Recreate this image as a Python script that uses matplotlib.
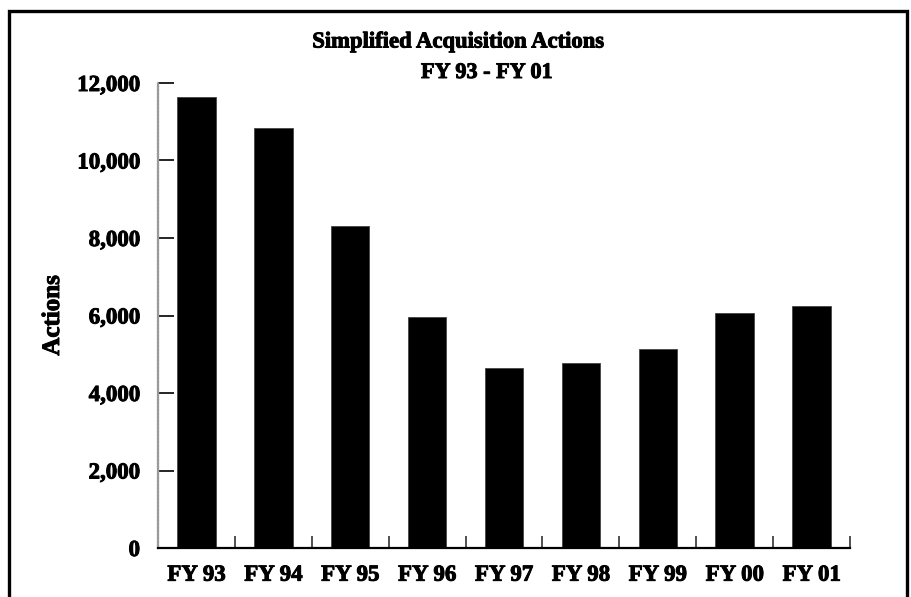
import matplotlib
matplotlib.use("Agg")
import matplotlib.pyplot as plt
from matplotlib.patches import Rectangle
import matplotlib.patheffects as pe

categories = ["FY 93", "FY 94", "FY 95", "FY 96", "FY 97", "FY 98", "FY 99", "FY 00", "FY 01"]
actions = [11650, 10850, 8300, 5960, 4640, 4780, 5130, 6060, 6240]
yticks = [0, 2000, 4000, 6000, 8000, 10000, 12000]
ytick_labels = ["0", "2,000", "4,000", "6,000", "8,000", "10,000", "12,000"]

plt.rcParams['font.family'] = ['Liberation Serif', 'DejaVu Serif']
plt.rcParams['font.weight'] = 'bold'

heavy = [pe.withStroke(linewidth=0.7, foreground='black')]

fig = plt.figure(figsize=(9.12, 5.97), dpi=100)
ax = fig.add_axes([158/912, (597-548)/597, (850-158)/912, (548-83)/597])

x = list(range(len(categories)))
ax.bar(x, actions, width=0.5, color='black', edgecolor='#444444', linewidth=0.6)

ax.set_xlim(-0.5, len(categories) - 0.5)
ax.set_ylim(0, 12000)
ax.set_yticks(yticks)
ax.set_yticklabels(ytick_labels, fontsize=16.5, fontweight='bold')
ax.set_xticks(x)
ax.set_xticklabels(categories, fontsize=16.5, fontweight='bold')
ax.set_xticks([i + 0.5 for i in x], minor=True)
for lab in ax.get_xticklabels() + ax.get_yticklabels():
    lab.set_path_effects(heavy)

ax.tick_params(axis='y', direction='in', length=11.5, width=1.2, pad=13, color='black')
ax.tick_params(axis='x', which='major', length=0, pad=12)
ax.tick_params(axis='x', which='minor', direction='in', length=8.5, width=1.1, color='#222222')

ax.spines['top'].set_visible(False)
ax.spines['right'].set_visible(False)
ax.spines['left'].set_color('#9a9a9a')
ax.spines['left'].set_linewidth(1.6)
ax.spines['left'].set_linestyle((0, (1, 0.6)))
ax.spines['bottom'].set_color('black')
ax.spines['bottom'].set_linewidth(1.6)

yl = ax.set_ylabel("Actions", fontsize=18, fontweight='bold')
yl.set_path_effects(heavy)
ax.yaxis.set_label_coords(-94/692, 0.5)

t1 = fig.text(458/912, 1 - 42/597, "Simplified Acquisition Actions", ha='center', va='center',
              fontsize=16.3, fontweight='bold')
t2 = fig.text(487/912, 1 - 73/597, "FY 93 - FY 01", ha='center', va='center',
              fontsize=16, fontweight='bold')
t1.set_path_effects(heavy)
t2.set_path_effects(heavy)

border = Rectangle((9/912, -0.05), (907-9)/912, (597-11)/597 + 0.05, transform=fig.transFigure,
                   fill=False, edgecolor='black', linewidth=2.4, clip_on=False)
fig.patches.append(border)

fig.savefig("out.png", dpi=100)
